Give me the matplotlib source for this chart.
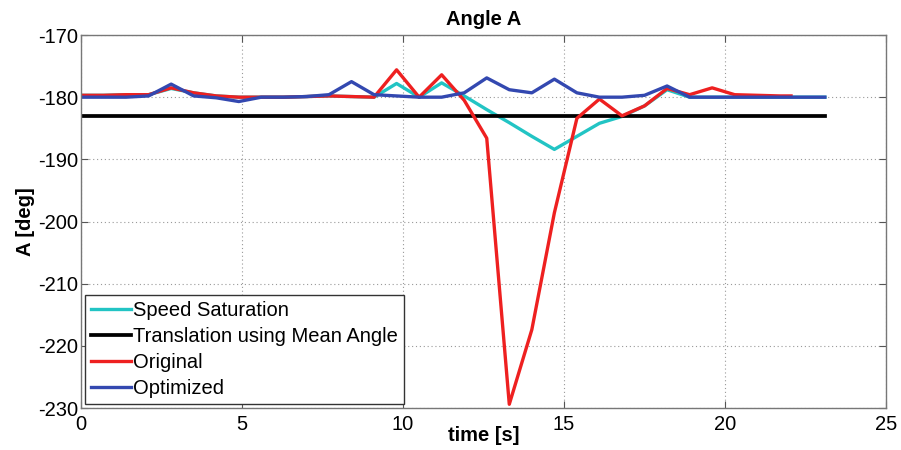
import matplotlib
matplotlib.use("Agg")
import matplotlib.pyplot as plt
import numpy as np

plt.rcParams['font.family'] = ['Liberation Sans', 'DejaVu Sans']
plt.rcParams['axes.unicode_minus'] = False

# time grid (s)
time = [0.0, 0.7, 1.4, 2.1, 2.8, 3.5, 4.2, 4.9, 5.6, 6.3, 7.0, 7.7, 8.4, 9.1,
        9.8, 10.5, 11.2, 11.9, 12.6, 13.3, 14.0, 14.7, 15.4, 16.1, 16.8, 17.5,
        18.2, 18.9, 19.6, 20.3, 21.0, 21.7, 22.4, 23.1]

optimized = [-180.0, -180.0, -180.0, -179.8, -177.9, -179.8, -180.1, -180.7,
             -180.0, -180.0, -179.9, -179.6, -177.5, -179.6, -179.8, -180.0,
             -180.0, -179.3, -176.9, -178.8, -179.3, -177.1, -179.3, -180.0,
             -180.0, -179.7, -178.2, -180.0, -180.0, -180.0, -180.0, -180.0,
             -180.0, -180.0]

speed_saturation = [-179.7, -179.7, -179.6, -179.6, -178.6, -179.3, -179.8,
                    -180.0, -180.0, -180.0, -179.9, -179.8, -179.9, -180.0,
                    -177.8, -180.0, -177.7, -179.8, -182.0, -184.1, -186.3,
                    -188.4, -186.3, -184.2, -183.1, -181.4, -178.8, -180.0,
                    -180.0, -180.0, -180.0, -180.0, -180.0, -180.0]

time_original = [0.0, 0.7, 1.4, 2.1, 2.8, 3.5, 4.2, 4.9, 5.6, 6.3, 7.0, 7.7,
                 8.4, 9.1, 9.8, 10.5, 11.2, 11.9, 12.6, 13.3, 14.0, 14.7, 15.4,
                 16.1, 16.8, 17.5, 18.2, 18.9, 19.6, 20.3, 21.0, 21.7, 22.05]
original = [-179.7, -179.7, -179.6, -179.6, -178.5, -179.3, -179.8, -180.0,
            -180.0, -180.0, -179.9, -179.8, -179.9, -180.0, -175.6, -180.0,
            -176.4, -180.5, -186.6, -229.4, -217.4, -198.6, -183.4, -180.3,
            -183.0, -181.4, -178.6, -179.6, -178.5, -179.6, -179.7, -179.8,
            -179.8]

mean_angle = -183.1
mean_time = [0.0, 23.1]

fig = plt.figure(figsize=(9.01, 4.5), dpi=100)
ax = fig.add_axes([0.0899, 0.0933, 0.8935, 0.8289])

lw = 2.4
ax.plot(time, speed_saturation, color='#22c4c4', lw=lw, label='Speed Saturation')
ax.plot(mean_time, [mean_angle, mean_angle], color='black', lw=lw + 0.3,
        label='Translation using Mean Angle')
ax.plot(time_original, original, color='#ee2020', lw=lw, label='Original')
ax.plot(time, optimized, color='#3348b0', lw=lw, label='Optimized')

ax.set_xlim(0, 25)
ax.set_ylim(-230, -170)
ax.set_xticks([0, 5, 10, 15, 20, 25])
ax.set_yticks([-230, -220, -210, -200, -190, -180, -170])
ax.grid(True, linestyle=(0, (1, 2.5)), color='#999999', lw=0.8)
ax.tick_params(direction='in', top=True, right=True, labelsize=14.5,
               length=5, color='#555555')
ax.tick_params(axis='y', pad=2)
ax.tick_params(axis='x', pad=5)
for s in ax.spines.values():
    s.set_color('#777777')
    s.set_linewidth(1.0)

ax.set_title('Angle A', fontsize=14.5, fontweight='bold', pad=7)
ax.set_xlabel('time [s]', fontsize=14.5, fontweight='bold')
ax.xaxis.set_label_coords(0.5, -0.048)
ax.set_ylabel('A [deg]', fontsize=14.5, fontweight='bold', labelpad=2)

leg = ax.legend(loc='lower left', fontsize=14.5, frameon=True, fancybox=False,
                handlelength=2.0, handletextpad=0.1, borderpad=0.3,
                labelspacing=0.35, borderaxespad=0.2, framealpha=1)
leg.get_frame().set_edgecolor('#333333')
leg.get_frame().set_linewidth(1.0)

fig.savefig('out.png', dpi=100)
